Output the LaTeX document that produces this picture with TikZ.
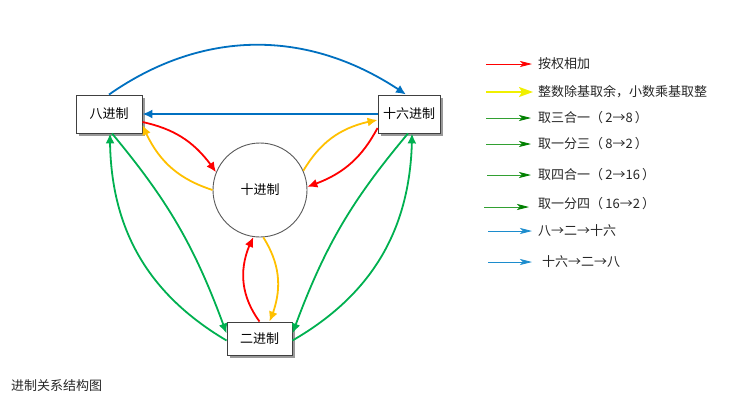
\documentclass[tikz,border=0pt]{standalone}
\usepackage{fontspec}
\setmainfont{Noto Sans CJK SC}
\usetikzlibrary{arrows.meta,shadows,bending}
\definecolor{dblue}{RGB}{0,112,192}
\definecolor{dred}{RGB}{255,0,0}
\definecolor{dyel}{RGB}{255,192,0}
\definecolor{dgreen}{RGB}{0,176,80}
\definecolor{lgreen}{RGB}{0,128,0}
\definecolor{lgreenl}{RGB}{50,160,50}
\definecolor{lblue}{RGB}{28,140,205}
\definecolor{lyel}{RGB}{240,240,0}
\tikzset{
  lbl/.style={font=\fontsize{13}{15}\selectfont},
  box/.style={lbl, draw=black!75, line width=0.9pt, fill=white, minimum height=38pt, inner sep=0pt,
    drop shadow={shadow xshift=2.5pt, shadow yshift=-2.5pt, fill=black!40, opacity=1}},
  circ/.style={lbl, draw=black!65, line width=0.9pt, circle, minimum size=94pt, inner sep=0pt},
  conn/.style={line width=1.8pt, -{Latex[length=10pt,width=9pt]}},
  lg/.style={line width=0.8pt, -{Stealth[length=12pt,width=6pt,inset=3pt]}},
  lgg/.style={line width=0.8pt, lgreenl, -{Stealth[length=12pt,width=6pt,inset=3pt,color=lgreen,fill=lgreen]}},
  ltext/.style={lbl, anchor=west, inner sep=0pt, text=black!85},
}
\begin{document}
\begin{tikzpicture}[x=1pt,y=1pt]
\useasboundingbox (0,0) rectangle (744,-410);
% nodes
\node[box, minimum width=66pt] (oct) at (109,-114) {八进制};
\node[box, minimum width=62pt] (hex) at (409,-114) {十六进制};
\node[box, minimum width=65pt, minimum height=33pt] (bin) at (259.5,-338.5) {二进制};
\node[circ] (dec) at (260,-190) {十进制};
% blue
\draw[conn, dblue] (oct.north) to[out=35,in=145] ([xshift=-3pt]hex.north);
\draw[conn, dblue] (hex.west) -- (oct.east);
% red / yellow around octal
\draw[conn, dred] ([yshift=-8pt]oct.east) to[bend left=22] (dec.158);
\draw[conn, dyel] (dec.180) to[bend left=25] ([yshift=-11pt]oct.east);
% hex
\draw[conn, dyel] (dec.24) to[bend left=25] ([yshift=-6pt]hex.west);
\draw[conn, dred] ([yshift=-14pt]hex.west) to[bend left=22] (dec.4);
% binary
\draw[conn, dred] ([xshift=0pt]bin.north) to[bend left=32] (dec.-98);
\draw[conn, dyel] (dec.-86) to[bend left=28] ([xshift=10pt]bin.north);
% greens left
\draw[conn, dgreen] ([yshift=-2pt]bin.west) to[bend left=30] ([xshift=1pt]oct.south);
\draw[conn, dgreen] ([xshift=3pt]oct.south) to[bend left=10] ([yshift=5pt]bin.west);
% greens right
\draw[conn, dgreen] ([yshift=-2pt]bin.east) to[bend right=30] ([xshift=3pt]hex.south);
\draw[conn, dgreen] ([xshift=-1pt]hex.south) to[bend right=10] ([yshift=5pt]bin.east);
% legend
\coordinate (a1) at (486,-64);  \coordinate (b1) at (532,-64);
\coordinate (a2) at (486,-92);  \coordinate (b2) at (533,-92);
\coordinate (a3) at (486,-118); \coordinate (b3) at (531,-118);
\coordinate (a4) at (486,-144); \coordinate (b4) at (531,-144);
\coordinate (a5) at (487,-175); \coordinate (b5) at (531,-175);
\coordinate (a6) at (484,-207); \coordinate (b6) at (529,-207);
\coordinate (a7) at (488,-231); \coordinate (b7) at (532,-231);
\coordinate (a8) at (488,-262); \coordinate (b8) at (532,-262);
\draw[lg, dred] (a1) -- (b1);
\draw[lg, lyel, line width=1.8pt, -{Stealth[length=14pt,width=10pt,inset=3pt]}] (a2) -- (b2);
\draw[lgg] (a3) -- (b3);
\draw[lgg] (a4) -- (b4);
\draw[lgg] (a5) -- (b5);
\draw[lgg] (a6) -- (b6);
\draw[lg, lblue] (a7) -- (b7);
\draw[lg, lblue] (a8) -- (b8);
\node[ltext] (t1) at (538,-64) {按权相加};
\node[ltext] (t2) at (538,-92) {整数除基取余，小数乘基取整};
\node[ltext] (t3) at (538,-118) {取三合一（\,2→8\,）};
\node[ltext] (t4) at (538,-144) {取一分三（\,8→2\,）};
\node[ltext] (t5) at (538,-175) {取四合一（\,2→16\,）};
\node[ltext] (t6) at (538,-204) {取一分四（\,16→2\,）};
\node[ltext] (t7) at (538,-231) {八→二→十六};
\node[ltext] (t8) at (542,-262) {十六→二→八};
\node[ltext] (cap) at (11,-386) {进制关系结构图};
\end{tikzpicture}
\end{document}
